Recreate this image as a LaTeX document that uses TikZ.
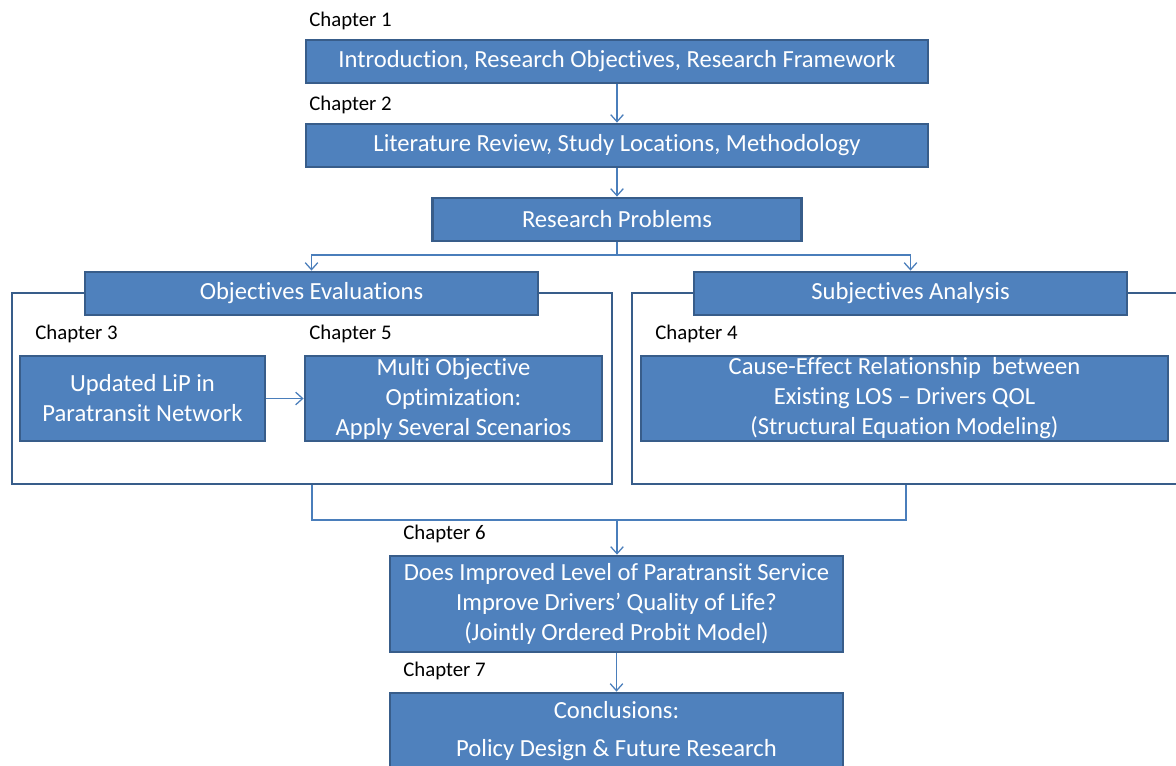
\documentclass[tikz,border=0pt]{standalone}
\usepackage{fontspec}
\setmainfont{Carlito}[Ligatures={TeX,NoCommon}]
\usetikzlibrary{arrows.meta,positioning}

\definecolor{boxblue}{HTML}{4F81BD}
\definecolor{boxedge}{HTML}{385D8A}
\definecolor{linkblue}{HTML}{4A7EBB}

\newcommand{\px}{0.025cm}

\tikzset{
	chapbox/.style={draw=boxedge, line width=2pt, fill=boxblue, text=white,
		align=center, inner sep=0pt, font=\fontsize{17.5}{21.3}\selectfont},
	chaplabel/.style={anchor=west, inner sep=0pt, font=\fontsize{14.8}{16}\selectfont},
	frame/.style={draw=boxedge, line width=2pt},
	linkline/.style={draw=linkblue, line width=0.9pt},
	link/.style={linkline, -{Straight Barb[length=5pt,width=9pt]}}
}

\begin{document}
\begin{tikzpicture}[x=\px, y=-\px]
	
	\useasboundingbox (0,0) rectangle (1176,765);
	
	% top chain
	\node[chaplabel] (c1) at (309,21) {Chapter 1};
	\node[chapbox, minimum width=622*\px, minimum height=43*\px] (intro) at (617,61.5)
		{Introduction, Research Objectives, Research Framework};
	\node[chaplabel] (c2) at (309,105) {Chapter 2};
	\node[chapbox, minimum width=622*\px, minimum height=43*\px] (lit) at (617,145.5)
		{Literature Review, Study Locations, Methodology};
	\node[chapbox, minimum width=369*\px, minimum height=43*\px] (prob) at (617,219.5)
		{Research Problems};
	
	% the two frames
	\node[frame, minimum width=600*\px, minimum height=191*\px] (objf) at (312,388.5) {};
	\node[frame, minimum width=548*\px, minimum height=191*\px] (subf) at (906,388.5) {};
	\node[chapbox, minimum width=453*\px, minimum height=43*\px] (objh) at (311.5,293.5)
		{Objectives Evaluations};
	\node[chapbox, minimum width=433*\px, minimum height=43*\px] (subh) at (910.5,293.5)
		{Subjectives Analysis};
	
	\node[chaplabel] (c3) at (35,334) {Chapter 3};
	\node[chaplabel] (c5) at (309,334) {Chapter 5};
	\node[chaplabel] (c4) at (655,334) {Chapter 4};
	
	\node[chapbox, minimum width=245*\px, minimum height=85*\px] (lip) at (142.5,398.5)
		{Updated LiP in\\Paratransit Network};
	\node[chapbox, minimum width=297*\px, minimum height=85*\px] (moo) at (453.5,398.5)
		{Multi Objective\\Optimization:\\Apply Several Scenarios};
	\node[chapbox, minimum width=527*\px, minimum height=85*\px] (sem) at (904.5,398.5)
		{Cause-Effect Relationship\ \ between\\Existing LOS – Drivers QOL\\(Structural Equation Modeling)};
	
	% bottom chain
	\node[chaplabel] (c6) at (403,534) {Chapter 6};
	\node[chapbox, minimum width=453*\px, minimum height=96*\px] (qol) at (616.5,604)
		{Does Improved Level of Paratransit Service\\Improve Drivers’ Quality of Life?\\(Jointly Ordered Probit Model)};
	\node[chaplabel] (c7) at (403,671) {Chapter 7};
	\node[chapbox, minimum width=453*\px, minimum height=76*\px] (concl) at (616.5,731)
		{Conclusions:\\[6pt]Policy Design \& Future Research};
	
	% connectors
	\coordinate (split) at (617,255);
	\coordinate (merge) at (617,520);
	
	\draw[link] (intro.south) -- (intro.south |- lit.north);
	\draw[link] (lit.south) -- (lit.south |- prob.north);
	\draw[linkline] (prob.south) -- (split);
	\draw[link] (split) -| (objh.north);
	\draw[link] (split) -| (subh.north);
	\draw[link] (lip) -- (moo);
	\draw[linkline] (objf.south) |- (merge);
	\draw[linkline] (subf.south) |- (merge);
	\draw[link] (merge) -- (merge |- qol.north);
	\draw[link] (qol.south) -- (qol.south |- concl.north);
	
\end{tikzpicture}
\end{document}
